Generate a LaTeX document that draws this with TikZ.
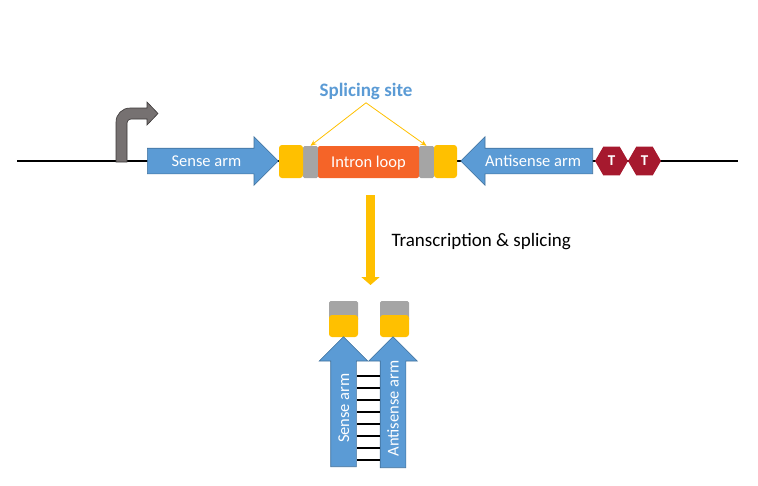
\documentclass[tikz,border=0pt]{standalone}
\usepackage{fontspec}
\setmainfont{Carlito}
\usetikzlibrary{shapes.arrows,shapes.geometric,arrows.meta}
\definecolor{armblue}{RGB}{91,155,213}
\definecolor{armedge}{RGB}{65,113,156}
\definecolor{capyellow}{RGB}{255,192,0}
\definecolor{sitegray}{RGB}{165,165,165}
\definecolor{loopred}{RGB}{245,100,40}
\definecolor{termred}{RGB}{166,25,46}
\definecolor{promgray}{RGB}{118,113,113}
\definecolor{promedge}{RGB}{59,56,56}
\begin{document}
\begin{tikzpicture}[x=1pt,y=-1pt,
    arm/.style={single arrow, fill=armblue, draw=armedge, line width=0.6pt,
      text=white, font=\fontsize{16.5}{18}\selectfont, inner xsep=2pt,
      text height=11pt, text depth=0pt, inner ysep=7pt,
      single arrow head extend=11.5pt, anchor=tail},
    capbox/.style={rectangle, rounded corners=3pt, fill=capyellow, inner sep=0pt},
    sitebox/.style={rectangle, rounded corners=1.5pt, fill=sitegray, inner sep=0pt},
    term/.style={regular polygon, regular polygon sides=6, minimum size=33pt,
      inner sep=0pt, fill=termred, text=white, font=\bfseries\fontsize{15}{16}\selectfont}]
  \useasboundingbox (0,0) rectangle (758,485);
  % DNA line
  \coordinate (lineL) at (17,161);
  \coordinate (lineR) at (738,161);
  \draw[line width=1.5pt] (lineL) -- (lineR);
  % Promoter
  \filldraw[fill=promgray, draw=promedge, line width=0.6pt]
    (116,162) -- (116,122) arc (180:270:14) -- (147,108) -- (147,102)
    -- (158,113.5) -- (147,125) -- (147,119) -- (131,119) arc (270:180:4)
    -- (127,162) -- cycle;
  % Hairpin cassette
  \node[arm, minimum height=131pt] (sense) at (147,161) {Sense arm};
  \node[sitebox, minimum width=15pt, minimum height=32pt] (siteL) at (310.5,162) {};
  \node[sitebox, minimum width=15pt, minimum height=32pt] (siteR) at (426.5,162) {};
  \node[capbox, minimum width=24pt, minimum height=33pt] (capL) at (291,161.5) {};
  \node[capbox, minimum width=23pt, minimum height=33pt] (capR) at (445.5,161.5) {};
  \node[rectangle, rounded corners=2pt, fill=loopred, inner sep=0pt, text=white,
    font=\fontsize{16.5}{18}\selectfont, text height=11pt, text depth=0pt,
    minimum width=101pt, minimum height=32pt]
    (intron) at (368.5,162) {Intron loop};
  \node[arm, shape border rotate=180, minimum height=132pt] (antisense) at (593,161) {Antisense arm};
  % Terminators
  \node[term] (t1) at (611.5,161) {T};
  \node[term] (t2) at (644.5,161) {T};
  % Splicing site
  \node[text=armblue, font=\bfseries\fontsize{19}{21}\selectfont] (splice) at (366,91) {Splicing site};
  \draw[capyellow, line width=0.8pt, -{Stealth[length=6pt,width=5pt]}] (splice.south) -- (siteL.north);
  \draw[capyellow, line width=0.8pt, -{Stealth[length=6pt,width=5pt]}] (splice.south) -- (siteR.north);
  % Transcription
  \coordinate (flowtop) at (370.5,195);
  \coordinate (flowend) at (370.5,285);
  \draw[capyellow, line width=9pt, -{Triangle[length=8pt,width=18pt]}] (flowtop) -- (flowend);
  \node[anchor=west, font=\fontsize{19}{21}\selectfont] (txlabel) at (388,242) {Transcription \& splicing};
  % Hairpin RNA
  \node[sitebox, minimum width=29pt, minimum height=20pt] (endL) at (343.5,311) {};
  \node[sitebox, minimum width=29pt, minimum height=20pt] (endR) at (394.5,311) {};
  \node[capbox, minimum width=29pt, minimum height=22pt] (tipL) at (343.5,326) {};
  \node[capbox, minimum width=29pt, minimum height=22pt] (tipR) at (394.5,326) {};
  \node[arm, rotate=90, minimum height=130pt] (senseup) at (343.5,467) {Sense arm};
  \node[arm, rotate=90, minimum height=131pt] (antiup) at (393,468) {Antisense arm};
  \foreach \y in {376,388,...,460}
    \draw[line width=1.2pt] (357,\y) -- (380,\y);
\end{tikzpicture}
\end{document}
